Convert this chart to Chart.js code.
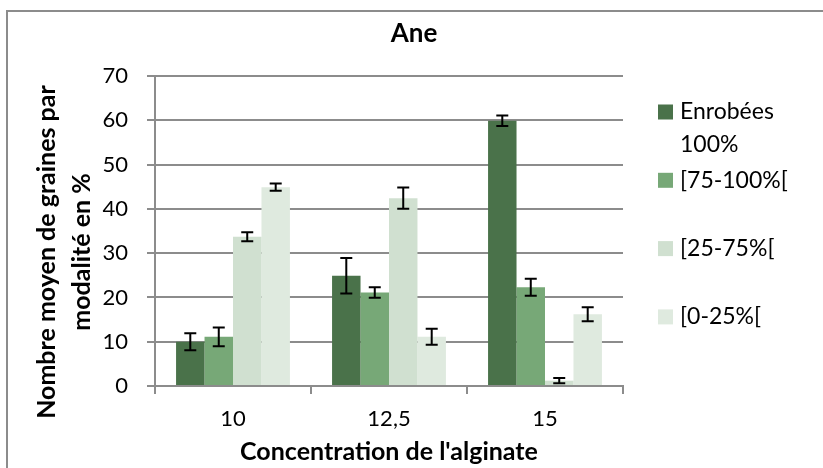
<!DOCTYPE html>
<html>
<head>
<meta charset="utf-8">
<script src="https://cdn.jsdelivr.net/npm/chart.js@4.4.0/dist/chart.umd.min.js"></script>
<style>
  body { margin: 0; background: #fff; }
  #wrap { width: 823px; height: 468px; position: relative; }
</style>
</head>
<body>
<div id="wrap"><canvas id="myChart" width="823" height="468"></canvas></div>
<script>
// data
let chartTitle = 'Ane';
let xTitle = "Concentration de l'alginate";
let yTitle = ['Nombre moyen de graines par', 'modalité en %'];
let categories = ['10', '12,5', '15'];
let seriesNames = ['Enrobées 100%', '[75-100%[', '[25-75%[', '[0-25%['];
let enrobees = [10, 24.9, 59.9];
let enrobeesErr = [1.9, 4, 1.2];
let de75a100 = [11.1, 21.1, 22.3];
let de75a100Err = [2.1, 1.2, 1.9];
let de25a75 = [33.7, 42.4, 1.2];
let de25a75Err = [1, 2.4, 0.6];
let de0a25 = [44.9, 11.1, 16.2];
let de0a25Err = [0.8, 1.8, 1.6];
let colors = ['#4a724a', '#77a877', '#d0e0d0', '#dfeadf'];

const FONT = 'Lato, "Open Sans", sans-serif';

// error bars drawn on top of the bars
const errorBars = {
  id: 'errorBars',
  afterDatasetsDraw(chart) {
    const ctx = chart.ctx;
    const y = chart.scales.y;
    ctx.save();
    ctx.strokeStyle = '#000';
    ctx.lineWidth = 2;
    chart.data.datasets.forEach((ds, i) => {
      const meta = chart.getDatasetMeta(i);
      meta.data.forEach((bar, j) => {
        const v = ds.data[j], e = ds.errors[j];
        const top = y.getPixelForValue(v + e);
        const bot = y.getPixelForValue(v - e);
        ctx.beginPath();
        ctx.moveTo(bar.x, top); ctx.lineTo(bar.x, bot);
        ctx.moveTo(bar.x - 6, top); ctx.lineTo(bar.x + 6, top);
        ctx.moveTo(bar.x - 6, bot); ctx.lineTo(bar.x + 6, bot);
        ctx.stroke();
      });
    });
    ctx.restore();
  }
};

// legend on the right, with wrapping like the original
const sideLegend = {
  id: 'sideLegend',
  afterDraw(chart) {
    const ctx = chart.ctx;
    ctx.save();
    ctx.font = '23px ' + FONT;
    ctx.textBaseline = 'middle';
    ctx.fillStyle = '#000';
    let x = chart.chartArea.right + 35;
    let yy = 112;
    chart.data.datasets.forEach((ds) => {
      ctx.fillStyle = ds.backgroundColor;
      ctx.fillRect(x, yy - 7.5, 15, 15);
      ctx.fillStyle = '#000';
      // simple word wrap
      let words = ds.label.split(' ');
      let lines = [], line = '';
      words.forEach(w => {
        let t = line ? line + ' ' + w : w;
        if (ctx.measureText(t).width > 130 && line) { lines.push(line); line = w; }
        else line = t;
      });
      lines.push(line);
      lines.forEach((l, k) => ctx.fillText(l, x + 22, yy + k * 33));
      yy += 68.3;
    });
    ctx.restore();
  }
};

// outer frame (only top and left edges show in the original), title, y title
const frame = {
  id: 'frame',
  beforeDraw(chart) {
    const ctx = chart.ctx;
    ctx.save();
    ctx.strokeStyle = '#8c8c8c';
    ctx.lineWidth = 2;
    ctx.beginPath();
    ctx.moveTo(7, 470); ctx.lineTo(7, 11); ctx.lineTo(830, 11);
    ctx.stroke();
    ctx.fillStyle = '#000';
    ctx.textAlign = 'center';
    ctx.textBaseline = 'middle';
    ctx.font = 'bold 26px ' + FONT;
    ctx.fillText(chartTitle, 414, 34);
    // y axis title, rotated, placed like the original (a bit below centre)
    ctx.font = 'bold 25px ' + FONT;
    ctx.translate(47, 252);
    ctx.rotate(-Math.PI / 2);
    yTitle.forEach((l, k) => ctx.fillText(l, 0, k * 35));
    ctx.restore();
  }
};

const data = {
  labels: categories,
  datasets: [
    { label: seriesNames[0], data: enrobees, errors: enrobeesErr, backgroundColor: colors[0] },
    { label: seriesNames[1], data: de75a100, errors: de75a100Err, backgroundColor: colors[1] },
    { label: seriesNames[2], data: de25a75, errors: de25a75Err, backgroundColor: colors[2] },
    { label: seriesNames[3], data: de0a25, errors: de0a25Err, backgroundColor: colors[3] }
  ]
};

const config = {
  type: 'bar',
  data: data,
  options: {
    responsive: false,
    animation: false,
    categoryPercentage: 0.73,
    barPercentage: 1.0,
    layout: { padding: { left: 10, right: 200, top: 76, bottom: 0 } },
    plugins: {
      legend: { display: false },
      tooltip: { enabled: false },
      title: { display: false }
    },
    scales: {
      x: {
        afterFit(scale) { scale.height = 82; },
        grid: { drawOnChartArea: false, drawTicks: true, tickLength: 8, color: '#8c8c8c', lineWidth: 2 },
        border: { color: '#8c8c8c', width: 2 },
        ticks: { color: '#000', padding: 12, font: { family: FONT, size: 22 } },
        title: {
          display: true,
          text: xTitle,
          color: '#000',
          font: { family: FONT, size: 25, weight: 'bold', lineHeight: 1.2 },
          padding: { top: 0, bottom: 1 }
        }
      },
      y: {
        min: 0,
        max: 70,
        afterFit(scale) { scale.width = 145; },
        grid: { color: '#8c8c8c', lineWidth: 2, tickLength: 8 },
        border: { color: '#8c8c8c', width: 2 },
        ticks: { stepSize: 10, color: '#000', padding: 19, font: { family: FONT, size: 22 } },
        title: { display: false }
      }
    }
  },
  plugins: [frame, errorBars, sideLegend]
};

const myChart = new Chart(document.getElementById('myChart'), config);
</script>
</body>
</html>
